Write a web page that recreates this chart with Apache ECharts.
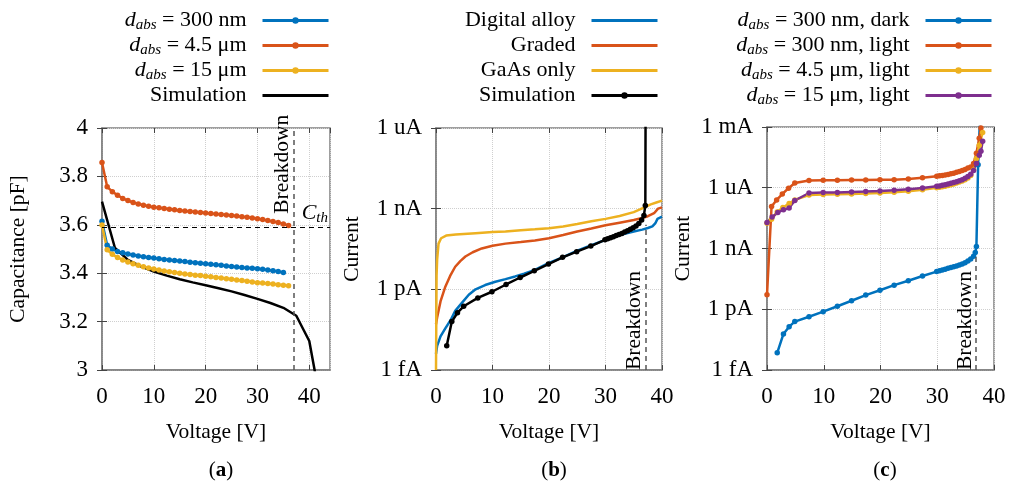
<!DOCTYPE html>
<html>
<head>
<meta charset="utf-8">
<script src="https://cdn.jsdelivr.net/npm/echarts@6/dist/echarts.min.js"></script>
<style>html,body{margin:0;padding:0;background:#fff}#chart{width:1010px;height:483px}</style>
</head>
<body>
<div id="chart"></div>
<script>
// (a) capacitance vs voltage
var voltA = [0,1,2,3,4,5,6,7,8,9,10,11,12,13,14,15,16,17,18,19,20,21,22,23,24,25,26,27,28,29,30,31,32,33,34,35,36];
var capA300 = [3.615,3.515,3.5,3.49,3.484,3.479,3.475,3.471,3.468,3.465,3.463,3.46,3.457,3.455,3.452,3.45,3.448,3.445,3.443,3.441,3.439,3.437,3.435,3.433,3.43,3.428,3.426,3.424,3.422,3.42,3.418,3.416,3.413,3.41,3.407,3.403];
var capA45 = [3.857,3.757,3.737,3.722,3.709,3.7,3.692,3.686,3.681,3.677,3.673,3.67,3.667,3.664,3.662,3.659,3.657,3.655,3.653,3.651,3.649,3.647,3.645,3.643,3.641,3.638,3.636,3.633,3.631,3.628,3.625,3.622,3.618,3.614,3.609,3.603,3.597];
var capA15 = [3.599,3.497,3.478,3.465,3.455,3.446,3.439,3.433,3.427,3.422,3.417,3.413,3.409,3.406,3.403,3.4,3.397,3.395,3.392,3.39,3.387,3.385,3.382,3.38,3.377,3.375,3.372,3.37,3.367,3.364,3.361,3.359,3.357,3.355,3.352,3.35,3.348];
var simAVolt = [0,2.5,5,7.5,10,12.5,15,17.5,20,22.5,25,27.5,30,32.5,35,37.5,40,41.2];
var simACap = [3.696,3.504,3.455,3.428,3.407,3.39,3.375,3.362,3.35,3.338,3.325,3.31,3.294,3.277,3.257,3.224,3.12,2.98];
var breakdownA = 37;
var breakdownALabelSpan = [3.7, 4.0];
var cthA = 3.59;

// (b) current vs voltage, exponents of 10 (A)
var digV = [0,0.2,0.8,1.65,2.6,3.4,4.4,5.8,7,8.7,10.5,12.3,14,15.6,17.5,20,22.5,25,27.5,30,32.5,35,36.5,37.5,38.3,38.8,39.2,40];
var digE = [-14.4,-14.1,-13.75,-13.45,-13.14,-12.8,-12.55,-12.2,-12.0,-11.84,-11.72,-11.62,-11.52,-11.42,-11.28,-11.02,-10.8,-10.56,-10.36,-10.16,-9.98,-9.85,-9.78,-9.72,-9.66,-9.55,-9.38,-9.3];
var gradV = [0,0.2,0.8,1.65,2.5,3.4,4.3,5.2,6.5,8.1,10,12.3,15,17.5,20,22.5,25,27.5,30,32.5,35,36.5,37.5,38.6,39.3,40];
var gradE = [-13.3,-13.05,-12.45,-11.9,-11.5,-11.16,-10.95,-10.78,-10.62,-10.48,-10.38,-10.3,-10.24,-10.18,-10.1,-9.98,-9.85,-9.74,-9.62,-9.52,-9.42,-9.35,-9.28,-9.17,-9.0,-8.95];
var gaasV = [0,0.1,0.2,0.45,0.9,1.8,3.5,7,10,12.3,15,17.5,20,22.5,25,27.5,30,32.5,35,36.2,37.1,38,39,40];
var gaasE = [-15,-11.5,-10.9,-10.3,-10.1,-10.0,-9.96,-9.91,-9.87,-9.85,-9.8,-9.77,-9.73,-9.66,-9.57,-9.47,-9.38,-9.27,-9.13,-9.02,-8.93,-8.84,-8.77,-8.7];
var simBV = [1.9,2.8,3.8,4.9,7.4,9.9,12.4,14.9,17.4,19.9,22.4,24.9,27.4,29.9,30.4,30.9,31.4,31.9,32.4,32.9,33.4,33.9,34.4,34.9,35.4,35.9,36.4,36.8,37.05,37.1];
var simBE = [-14.1,-13.2,-12.87,-12.63,-12.32,-12.09,-11.82,-11.56,-11.31,-11.06,-10.81,-10.6,-10.39,-10.16,-10.12,-10.08,-10.04,-10.0,-9.96,-9.92,-9.87,-9.82,-9.77,-9.71,-9.64,-9.55,-9.42,-9.25,-8.88,-5.0];
var breakdownB = 37.05;
var breakdownBTopE = -9.6;

// (c) dark / light current, exponents of 10 (A)
var darkV = [1.8,2.9,3.9,4.9,7.4,9.9,12.4,14.9,17.4,19.9,22.4,24.9,27.4,29.9,30.4,30.9,31.4,31.9,32.4,32.9,33.4,33.9,34.4,34.9,35.4,35.9,36.4,36.7,36.9,37.2,37.5];
var darkE = [-14.15,-13.22,-12.86,-12.61,-12.37,-12.12,-11.85,-11.58,-11.3,-11.06,-10.81,-10.59,-10.36,-10.14,-10.1,-10.06,-10.02,-9.98,-9.94,-9.9,-9.86,-9.81,-9.76,-9.7,-9.62,-9.52,-9.38,-9.2,-8.9,-4.86,-2.8];
var light300V = [0,0.8,1.7,2.7,3.8,4.9,7.4,9.9,12.4,14.9,17.4,19.9,22.4,24.9,27.4,29.9,30.4,30.9,31.4,31.9,32.4,32.9,33.4,33.9,34.4,34.9,35.4,35.9,36.4,36.9,37.4,37.7];
var light300E = [-11.29,-6.93,-6.6,-6.31,-6.02,-5.77,-5.64,-5.63,-5.63,-5.62,-5.62,-5.61,-5.6,-5.57,-5.51,-5.43,-5.41,-5.39,-5.37,-5.34,-5.31,-5.28,-5.24,-5.2,-5.15,-5.1,-5.03,-4.97,-4.8,-4.3,-3.55,-3.05];
var light45V = [0,0.8,1.8,2.8,3.9,4.9,7.4,9.9,12.4,14.9,17.4,19.9,22.4,24.9,27.4,29.9,30.4,30.9,31.4,31.9,32.4,32.9,33.4,33.9,34.4,34.9,35.4,35.9,36.4,36.9,37.4,38.0];
var light45E = [-7.75,-7.55,-7.2,-6.98,-6.78,-6.6,-6.36,-6.33,-6.32,-6.31,-6.29,-6.26,-6.22,-6.17,-6.1,-6.0,-5.98,-5.95,-5.92,-5.89,-5.85,-5.81,-5.77,-5.72,-5.67,-5.6,-5.52,-5.4,-5.12,-4.55,-3.9,-3.27];
var light15V = [0,0.9,1.9,2.9,3.9,4.9,7.4,9.9,12.4,14.9,17.4,19.9,22.4,24.9,27.4,29.9,30.4,30.9,31.4,31.9,32.4,32.9,33.4,33.9,34.4,34.9,35.4,35.9,36.4,36.9,37.4,37.7,38.0];
var light15E = [-7.72,-7.45,-7.22,-7.09,-7.0,-6.63,-6.26,-6.24,-6.23,-6.21,-6.19,-6.16,-6.12,-6.07,-6.01,-5.93,-5.91,-5.88,-5.85,-5.82,-5.78,-5.74,-5.7,-5.65,-5.6,-5.53,-5.45,-5.33,-5.15,-4.8,-4.4,-4.2,-3.7];
var breakdownC = 36.85;
var breakdownCTopE = -9.3;

var currentTicks = {'-15':'1 fA','-12':'1 pA','-9':'1 nA','-6':'1 uA','-3':'1 mA'};

var FONT = 'Liberation Serif';
var GREY = '#808080';
var BLUE = '#0072BD', ORANGE = '#D95319', YELLOW = '#EDB120', PURPLE = '#7E2F8E';

function pairs(xs, ys) {
	return xs.map(function (x, i) { return [x, ys[i]]; });
}
function pairsExp(xs, es) {
	return xs.map(function (x, i) { return [x, Math.pow(10, es[i])]; });
}

var rich = {
	d: {fontFamily: FONT, fontSize: 22, fontStyle: 'italic', lineHeight: 25, color: '#000'},
	s: {fontFamily: FONT, fontSize: 15, fontStyle: 'italic', lineHeight: 15, verticalAlign: 'bottom', color: '#000'},
	n: {fontFamily: FONT, fontSize: 22, lineHeight: 25, color: '#000'},
	b: {fontFamily: FONT, fontSize: 21, fontWeight: 'bold', lineHeight: 25, color: '#000'},
	g: {width: 11}
};
var dabs = '{d|d}{s|abs}';
var legendText = {
	a300: dabs + '{n| = 300 nm}', a45: dabs + '{n| = 4.5 μm}', a15: dabs + '{n| = 15 μm}', aSim: '{n|Simulation}',
	bDig: '{n|Digital alloy}', bGrad: '{n|Graded}', bGaas: '{n|GaAs only}', bSim: '{n|Simulation}',
	cDark: dabs + '{n| = 300 nm, dark}', cL300: dabs + '{n| = 300 nm, light}',
	cL45: dabs + '{n| = 4.5 μm, light}', cL15: dabs + '{n| = 15 μm, light}'
};
// series drawn without markers get a plain line in the legend
var noMarker = {aSim: true, bDig: true, bGrad: true, bGaas: true};

function legend(names, right) {
	return {
		data: names.map(function (n) {
			return noMarker[n] ? {name: n, itemStyle: {opacity: 0}} : {name: n};
		}),
		orient: 'vertical', align: 'right', right: right, top: 8,
		itemWidth: 66, itemHeight: 8, itemGap: 0, padding: 0, selectedMode: false,
		lineStyle: {width: 3},
		textStyle: {fontFamily: FONT, fontSize: 22, color: '#000', lineHeight: 25, rich: rich},
		formatter: function (n) { return legendText[n] + '{g| }'; }
	};
}

var tickStyle = {show: true, inside: true, length: 5, lineStyle: {color: '#444', width: 1}};
var splitStyle = {show: true, lineStyle: {color: '#cfcfcf', type: 'dotted', width: 1}};
var labelStyle = {color: '#000', fontFamily: FONT, fontSize: 23};
var nameStyle = {color: '#000', fontFamily: FONT, fontSize: 21.5};

function xMain(g, max) {
	return {
		type: 'value', gridIndex: g, min: 0, max: max, interval: 10,
		axisLine: {show: true, lineStyle: {color: GREY, width: 1.5}},
		axisTick: tickStyle, splitLine: splitStyle,
		axisLabel: Object.assign({margin: 15, showMaxLabel: max === 40}, labelStyle),
		name: 'Voltage [V]', nameLocation: 'middle', nameGap: 51, nameTextStyle: nameStyle
	};
}
function xMirror(g, max) {
	return {type: 'value', gridIndex: g, position: 'top', min: 0, max: max, interval: 10,
		axisLine: {show: false}, axisTick: tickStyle, axisLabel: {show: false}, splitLine: {show: false}};
}
function yLog(g, maxE, name) {
	return {
		type: 'log', logBase: 10, gridIndex: g, min: 1e-15, max: Math.pow(10, maxE), interval: 3,
		axisLine: {show: true, lineStyle: {color: GREY, width: 1.5}},
		axisTick: tickStyle, splitLine: splitStyle, minorTick: {show: false},
		axisLabel: Object.assign({margin: 14, formatter: function (v) {
			return currentTicks[String(Math.round(Math.log10(v)))] || '';
		}}, labelStyle),
		name: name, nameLocation: 'middle', nameGap: 73, nameTextStyle: nameStyle
	};
}
function yLogMirror(g, maxE) {
	return {type: 'log', logBase: 10, gridIndex: g, position: 'right', min: 1e-15, max: Math.pow(10, maxE), interval: 3,
		axisLine: {show: false}, axisTick: tickStyle, axisLabel: {show: false}, splitLine: {show: false}};
}

function line(name, g, data, color, markers, extra) {
	return Object.assign({
		type: 'line', name: name, xAxisIndex: g, yAxisIndex: g, data: data,
		symbol: markers ? 'circle' : 'none', symbolSize: 5.5, showSymbol: markers,
		lineStyle: {color: color, width: 2.5}, itemStyle: {color: color},
		clip: true, animation: false
	}, extra || {});
}

var annot = {fontFamily: FONT, fontSize: 21.5, color: '#000'};
var dash = {type: [5, 4], color: '#555', width: 1.5};
var capStyle = {fontFamily: FONT, fontSize: 21, fontWeight: 'normal', color: '#000', rich: rich};

var option = {
	backgroundColor: '#fff',
	animation: false,
	grid: [
		{left: 102, top: 128, width: 228, height: 242, show: true, borderColor: GREY, borderWidth: 1.5},
		{left: 436, top: 128, width: 226, height: 242, show: true, borderColor: GREY, borderWidth: 1.5},
		{left: 767, top: 127, width: 227, height: 243, show: true, borderColor: GREY, borderWidth: 1.5}
	],
	title: [
		{text: '({b|a})', left: 216, top: 453, textAlign: 'center', textStyle: capStyle},
		{text: '({b|b})', left: 549, top: 453, textAlign: 'center', textStyle: capStyle},
		{text: '({b|c})', left: 880, top: 453, textAlign: 'center', textStyle: capStyle}
	],
	legend: [
		legend(['a300', 'a45', 'a15', 'aSim'], 680),
		legend(['bDig', 'bGrad', 'bGaas', 'bSim'], 351),
		legend(['cDark', 'cL300', 'cL45', 'cL15'], 17)
	],
	xAxis: [xMain(0, 44), xMain(1, 40), xMain(2, 40), xMirror(0, 44), xMirror(1, 40), xMirror(2, 40)],
	yAxis: [
		{
			type: 'value', gridIndex: 0, min: 3, max: 4, interval: 0.2,
			axisLine: {show: true, lineStyle: {color: GREY, width: 1.5}},
			axisTick: tickStyle, splitLine: splitStyle,
			axisLabel: Object.assign({margin: 14}, labelStyle),
			name: 'Capacitance [pF]', nameLocation: 'middle', nameGap: 73, nameTextStyle: nameStyle
		},
		yLog(1, -6, 'Current'),
		yLog(2, -3, 'Current'),
		{type: 'value', gridIndex: 0, position: 'right', min: 3, max: 4, interval: 0.2,
			axisLine: {show: false}, axisTick: tickStyle, axisLabel: {show: false}, splitLine: {show: false}},
		yLogMirror(1, -6),
		yLogMirror(2, -3)
	],
	series: [
		line('a300', 0, pairs(voltA.slice(0, capA300.length), capA300), BLUE, true),
		line('a45', 0, pairs(voltA, capA45), ORANGE, true),
		line('a15', 0, pairs(voltA, capA15), YELLOW, true),
		line('aSim', 0, pairs(simAVolt, simACap), '#000', false, {
			markLine: {
				symbol: 'none', silent: true, animation: false,
				data: [
					{xAxis: breakdownA, lineStyle: dash, label: {show: false}},
					[
						{coord: [breakdownA, breakdownALabelSpan[0]], lineStyle: {color: 'rgba(0,0,0,0)', width: 0},
							label: Object.assign({show: true, position: 'insideMiddleTop', formatter: 'Breakdown', distance: 0}, annot)},
						{coord: [breakdownA, breakdownALabelSpan[1]]}
					],
					{yAxis: cthA, lineStyle: {type: [5, 4], color: '#000', width: 1.2},
						label: Object.assign({show: true, position: 'insideEndTop', distance: 2,
							formatter: '{d|C}{s|th}', rich: rich}, annot)}
				]
			}
		}),

		line('bDig', 1, pairsExp(digV, digE), BLUE, false),
		line('bGrad', 1, pairsExp(gradV, gradE), ORANGE, false),
		line('bGaas', 1, pairsExp(gaasV, gaasE), YELLOW, false),
		line('bSim', 1, pairsExp(simBV, simBE), '#000', true, {
			markLine: {
				symbol: 'none', silent: true, animation: false,
				data: [[
					{coord: [breakdownB, 1e-15], lineStyle: dash,
						label: Object.assign({show: true, position: 'insideStartTop', formatter: 'Breakdown', distance: 0}, annot)},
					{coord: [breakdownB, Math.pow(10, breakdownBTopE)]}
				]]
			}
		}),

		line('cDark', 2, pairsExp(darkV, darkE), BLUE, true, {
			markLine: {
				symbol: 'none', silent: true, animation: false,
				data: [[
					{coord: [breakdownC, 1e-15], lineStyle: dash,
						label: Object.assign({show: true, position: 'insideStartTop', formatter: 'Breakdown', distance: 0}, annot)},
					{coord: [breakdownC, Math.pow(10, breakdownCTopE)]}
				]]
			}
		}),
		line('cL300', 2, pairsExp(light300V, light300E), ORANGE, true),
		line('cL45', 2, pairsExp(light45V, light45E), YELLOW, true),
		line('cL15', 2, pairsExp(light15V, light15E), PURPLE, true)
	]
};

var chart = echarts.init(document.getElementById('chart'), null, {renderer: 'canvas'});
chart.setOption(option);
</script>
</body>
</html>
